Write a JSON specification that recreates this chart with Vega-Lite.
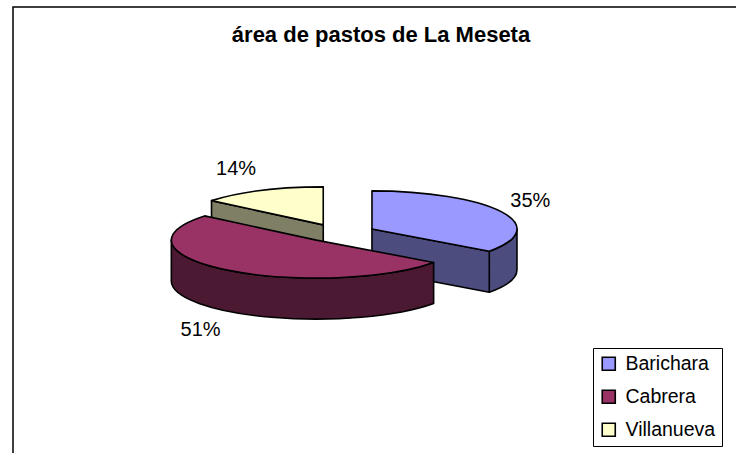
{
"$schema":"https://vega.github.io/schema/vega-lite/v6.json",
"width":740,"height":460,
"padding":{"left":13,"top":7,"right":0,"bottom":0},
"autosize":"none",
"background":"white",
"view":{"stroke":"black","strokeWidth":1.5,"fill":"white"},
"title":{"text":"área de pastos de La Meseta","font":"Liberation Sans","fontWeight":"bold","fontSize":22,"color":"black","anchor":"middle","frame":"group","dx":-2,"dy":40,"offset":0},
"params":[
{"name":"rx","value":145},{"name":"ry","value":38},{"name":"depth","value":41},
{"name":"ex","value":37},{"name":"ey","value":9},{"name":"ox","value":326},{"name":"oy","value":226}
],
"data":{"values":[
{"category":"Barichara","value":35},
{"category":"Cabrera","value":51},
{"category":"Villanueva","value":14}
]},
"transform":[
{"stack":"value","groupby":[],"sort":[{"field":"category","order":"ascending"}],"offset":"normalize","as":["v0","v1"]},
{"calculate":"datum.v0*2*PI","as":"a0"},
{"calculate":"datum.v1*2*PI","as":"a1"},
{"calculate":"(datum.a0+datum.a1)/2","as":"mid"},
{"calculate":"ox+ex*sin(datum.mid)","as":"cx"},
{"calculate":"oy-ey*cos(datum.mid)","as":"cy"},
{"calculate":"round(rx*sin(datum.a0)*100)/100","as":"sx0"},
{"calculate":"round(-ry*cos(datum.a0)*100)/100","as":"sy0"},
{"calculate":"round(rx*sin(datum.a1)*100)/100","as":"sx1"},
{"calculate":"round(-ry*cos(datum.a1)*100)/100","as":"sy1"},
{"calculate":"max(datum.a0,PI/2)","as":"b0"},
{"calculate":"min(datum.a1,3*PI/2)","as":"b1"},
{"calculate":"round(rx*sin(datum.b0)*100)/100","as":"bx0"},
{"calculate":"round(-ry*cos(datum.b0)*100)/100","as":"by0"},
{"calculate":"round(rx*sin(datum.b1)*100)/100","as":"bx1"},
{"calculate":"round(-ry*cos(datum.b1)*100)/100","as":"by1"},
{"calculate":"'M0 0L'+datum.sx0+' '+datum.sy0+'A'+rx+' '+ry+' 0 '+(datum.a1-datum.a0>PI?1:0)+' 1 '+datum.sx1+' '+datum.sy1+'Z'","as":"topPath"},
{"calculate":"(datum.a0>PI?'M0 0L'+datum.sx0+' '+datum.sy0+'L'+datum.sx0+' '+(datum.sy0+depth)+'L0 '+depth+'Z':'')+(datum.a1<PI?'M0 0L'+datum.sx1+' '+datum.sy1+'L'+datum.sx1+' '+(datum.sy1+depth)+'L0 '+depth+'Z':'')+(datum.b1>datum.b0?'M'+datum.bx0+' '+datum.by0+'A'+rx+' '+ry+' 0 0 1 '+datum.bx1+' '+datum.by1+'L'+datum.bx1+' '+(datum.by1+depth)+'A'+rx+' '+ry+' 0 0 0 '+datum.bx0+' '+(datum.by0+depth)+'Z':'')","as":"sidePath"},
{"calculate":"format(datum.v1-datum.v0,'.0%')","as":"pct"},
{"calculate":"datum.cx+(rx+8)*sin(datum.mid)+22*(sin(datum.mid)<0?-1:1)","as":"lx"},
{"calculate":"datum.cy-(ry+24)*cos(datum.mid)+(cos(datum.mid)<0?depth:0)","as":"ly"}
],
"layer":[
{"mark":{"type":"point","filled":true,"size":4,"opacity":1,"stroke":"black","strokeWidth":1.6,"strokeJoin":"round"},
 "encoding":{
  "x":{"field":"cx","type":"quantitative","scale":null},
  "y":{"field":"cy","type":"quantitative","scale":null},
  "shape":{"field":"sidePath","type":"nominal","scale":null,"legend":null},
  "color":{"field":"category","type":"nominal","legend":null,"scale":{"domain":["Barichara","Cabrera","Villanueva"],"range":["#4C4C7F","#4C1933","#7F7F66"]}}
 }},
{"mark":{"type":"point","filled":true,"size":4,"opacity":1,"stroke":"black","strokeWidth":1.6,"strokeJoin":"round"},
 "encoding":{
  "x":{"field":"cx","type":"quantitative","scale":null},
  "y":{"field":"cy","type":"quantitative","scale":null},
  "shape":{"field":"topPath","type":"nominal","scale":null,"legend":null},
  "color":{"field":"category","type":"nominal","scale":{"domain":["Barichara","Cabrera","Villanueva"],"range":["#9999FF","#993366","#FFFFCC"]},
   "legend":{"title":null,"orient":"none","legendX":580,"legendY":341,"symbolType":"square","symbolSize":170,"symbolStrokeColor":"black","symbolStrokeWidth":1.6,"symbolOpacity":1,"fillColor":"white","strokeColor":"black","padding":6,"rowPadding":12,"labelFont":"Liberation Sans","labelFontSize":19.5,"labelColor":"black","labelLimit":200,"labelOffset":7}}
 }},
{"mark":{"type":"text","font":"Liberation Sans","fontSize":20,"color":"black","baseline":"middle","align":"center"},
 "encoding":{
  "x":{"field":"lx","type":"quantitative","scale":null},
  "y":{"field":"ly","type":"quantitative","scale":null},
  "text":{"field":"pct","type":"nominal"}
 }}
],
"resolve":{"scale":{"color":"independent"}}
}
